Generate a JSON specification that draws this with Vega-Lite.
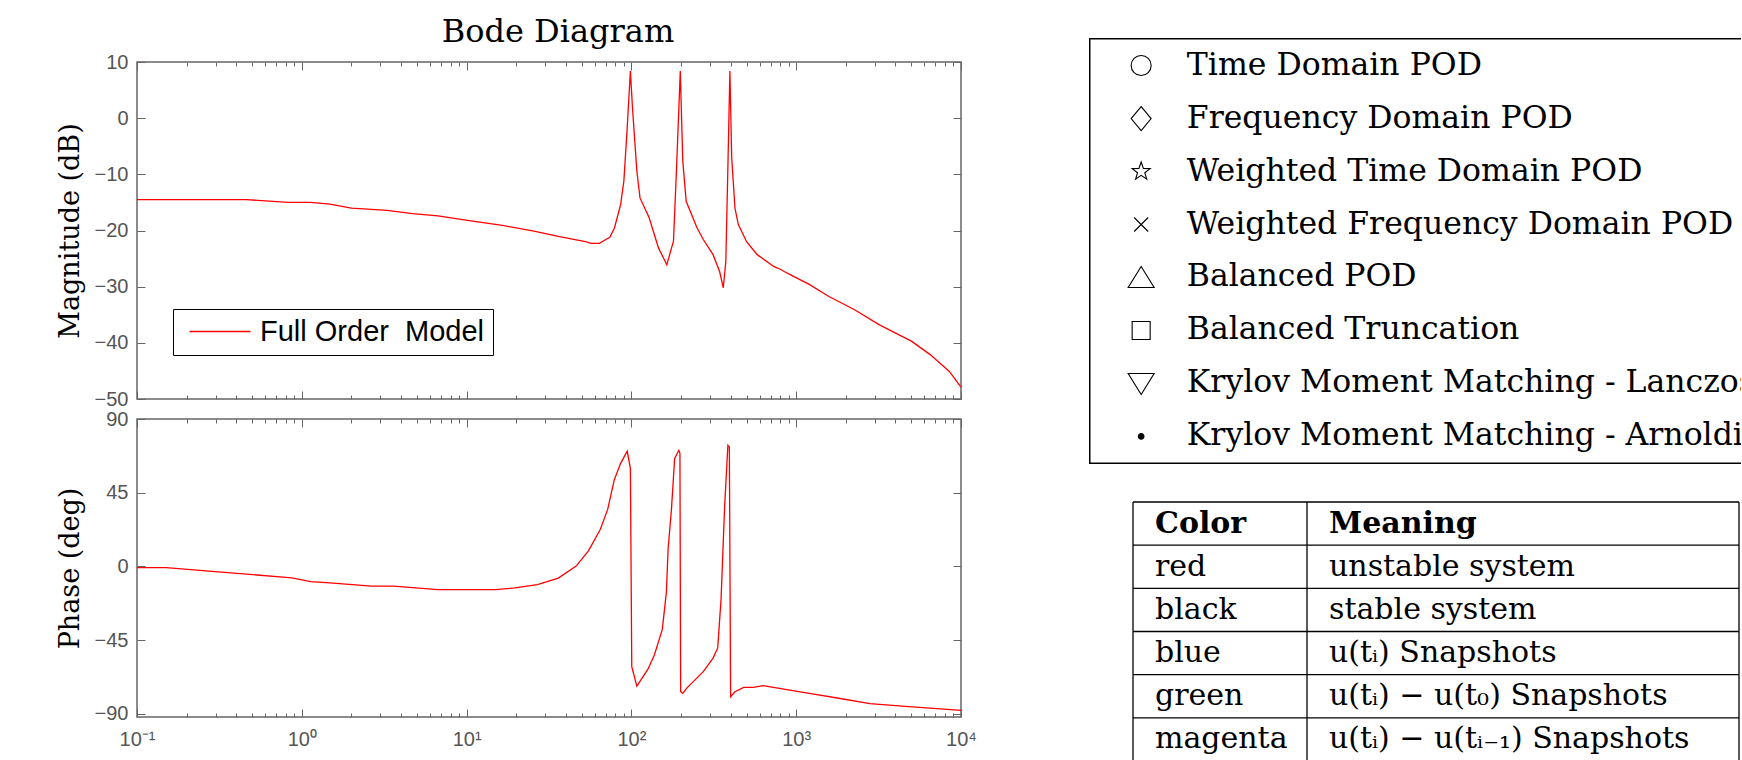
{
  "$schema": "https://vega.github.io/schema/vega-lite/v6.json",
  "background": "white",
  "padding": {"left": 55, "top": 15, "right": 0, "bottom": 0},
  "bounds": "flush",
  "spacing": 952,
  "config": {
    "view": {"stroke": "#666666", "strokeWidth": 1.5},
    "axis": {"grid": false, "domain": false, "labelFont": "Liberation Sans", "labelFontSize": 20, "labelColor": "#555555", "tickColor": "#666666", "tickWidth": 1, "titleFont": "DejaVu Serif", "titleFontSize": 27, "titleFontWeight": "normal", "titleColor": "#000000"},
    "title": {"font": "DejaVu Serif", "fontSize": 32, "fontWeight": "normal", "color": "#000000", "anchor": "middle", "frame": "group", "baseline": "alphabetic", "offset": 3, "dx": 9}
  },
  "datasets": {
    "magnitude": [
      {"f": 0.1, "mag": -14.5}, {"f": 0.2, "mag": -14.5}, {"f": 0.46, "mag": -14.5}, {"f": 0.83, "mag": -15.0},
      {"f": 1.13, "mag": -15.0}, {"f": 1.48, "mag": -15.3}, {"f": 2.0, "mag": -16.0}, {"f": 3.3, "mag": -16.4},
      {"f": 4.7, "mag": -17.0}, {"f": 6.7, "mag": -17.4}, {"f": 10.6, "mag": -18.3}, {"f": 16.5, "mag": -19.1},
      {"f": 25.6, "mag": -20.1}, {"f": 36.6, "mag": -21.1}, {"f": 52.6, "mag": -22.0}, {"f": 57, "mag": -22.3},
      {"f": 64, "mag": -22.3}, {"f": 70, "mag": -21.6}, {"f": 74, "mag": -21.2}, {"f": 79, "mag": -19.5},
      {"f": 86, "mag": -15.4}, {"f": 90, "mag": -11.2}, {"f": 94.3, "mag": -1.7}, {"f": 98.6, "mag": 8.4},
      {"f": 101.5, "mag": 1.9}, {"f": 107.9, "mag": -9.4}, {"f": 112.8, "mag": -14.2}, {"f": 128, "mag": -17.7},
      {"f": 146, "mag": -23.1}, {"f": 164, "mag": -26.1}, {"f": 180, "mag": -21.9}, {"f": 188, "mag": -8.8},
      {"f": 198, "mag": 8.4}, {"f": 205, "mag": -7.6}, {"f": 215, "mag": -14.8}, {"f": 250, "mag": -19.5},
      {"f": 273, "mag": -21.6}, {"f": 313, "mag": -24.3}, {"f": 343, "mag": -27.3}, {"f": 361, "mag": -30.2},
      {"f": 374, "mag": -25.5}, {"f": 385, "mag": -8.8}, {"f": 396, "mag": 8.4}, {"f": 406, "mag": -7.0},
      {"f": 425, "mag": -16.0}, {"f": 445, "mag": -18.9}, {"f": 500, "mag": -22.0}, {"f": 580, "mag": -24.3},
      {"f": 730, "mag": -26.4}, {"f": 800, "mag": -26.9}, {"f": 845, "mag": -27.3}, {"f": 925, "mag": -27.9},
      {"f": 1200, "mag": -29.6}, {"f": 1570, "mag": -31.7}, {"f": 2260, "mag": -34.1}, {"f": 3200, "mag": -36.8},
      {"f": 5000, "mag": -39.7}, {"f": 6500, "mag": -42.1}, {"f": 8500, "mag": -45.1}, {"f": 10000, "mag": -47.9}
    ],
    "phase": [
      {"f": 0.1, "phase": -0.8}, {"f": 0.15, "phase": -0.8}, {"f": 0.325, "phase": -3.5}, {"f": 0.87, "phase": -7.0},
      {"f": 1.13, "phase": -9.3}, {"f": 1.48, "phase": -10.1}, {"f": 2.65, "phase": -12.1}, {"f": 3.6, "phase": -12.1},
      {"f": 6.7, "phase": -14.2}, {"f": 15, "phase": -14.2}, {"f": 19.6, "phase": -13.2}, {"f": 26.9, "phase": -11.1},
      {"f": 36, "phase": -7.2}, {"f": 46.2, "phase": 0.2}, {"f": 55, "phase": 9.6}, {"f": 64.8, "phase": 22.7},
      {"f": 71.8, "phase": 34.8}, {"f": 78.7, "phase": 52.8}, {"f": 86, "phase": 62.9}, {"f": 94.3, "phase": 70.3},
      {"f": 98.6, "phase": 59.9}, {"f": 100.5, "phase": -61.2}, {"f": 107.9, "phase": -73.1}, {"f": 126, "phase": -62.8},
      {"f": 138, "phase": -54.0}, {"f": 154, "phase": -38.5}, {"f": 163, "phase": -15.9}, {"f": 167, "phase": 10.6},
      {"f": 175, "phase": 34.8}, {"f": 183, "phase": 65.9}, {"f": 194, "phase": 70.9}, {"f": 197, "phase": 69.0},
      {"f": 199, "phase": -76.6}, {"f": 205, "phase": -77.6}, {"f": 216, "phase": -74.5}, {"f": 273, "phase": -64.3},
      {"f": 313, "phase": -56.0}, {"f": 334, "phase": -49.8}, {"f": 350, "phase": -20.0}, {"f": 368, "phase": 36.8},
      {"f": 385, "phase": 73.9}, {"f": 393, "phase": 72.9}, {"f": 400, "phase": -79.7}, {"f": 425, "phase": -76.6},
      {"f": 480, "phase": -73.9}, {"f": 550, "phase": -73.9}, {"f": 630, "phase": -72.9}, {"f": 790, "phase": -74.5},
      {"f": 1200, "phase": -77.6}, {"f": 1850, "phase": -80.7}, {"f": 2800, "phase": -83.8}, {"f": 4600, "phase": -85.5},
      {"f": 10000, "phase": -87.9}
    ],
    "methods": [
      {"method": "Time Domain POD"},
      {"method": "Frequency Domain POD"},
      {"method": "Weighted Time Domain POD"},
      {"method": "Weighted Frequency Domain POD"},
      {"method": "Balanced POD"},
      {"method": "Balanced Truncation"},
      {"method": "Krylov Moment Matching - Lanczos"},
      {"method": "Krylov Moment Matching - Arnoldi"}
    ],
    "table": [
      {"row": 0, "color": "Color", "meaning": "Meaning"},
      {"row": 1, "color": "red", "meaning": "unstable system"},
      {"row": 2, "color": "black", "meaning": "stable system"},
      {"row": 3, "color": "blue", "meaning": "u(tᵢ) Snapshots"},
      {"row": 4, "color": "green", "meaning": "u(tᵢ) − u(t₀) Snapshots"},
      {"row": 5, "color": "magenta", "meaning": "u(tᵢ) − u(tᵢ₋₁) Snapshots"}
    ]
  },
  "hconcat": [
    {
      "bounds": "flush",
      "spacing": 20,
      "vconcat": [
        {"width": 824, "height": 4, "data": {"values": []}, "mark": "point", "view": {"stroke": null}},
        {
          "width": 824,
          "height": 337,
          "title": "Bode Diagram",
          "data": {"name": "magnitude"},
          "layer": [
            {
              "mark": {"type": "line", "strokeWidth": 1.3},
              "encoding": {
                "x": {"field": "f", "type": "quantitative", "scale": {"type": "log", "domain": [0.1, 10000], "nice": false}, "axis": null},
                "y": {"field": "mag", "type": "quantitative", "scale": {"domain": [-50, 10], "nice": false, "zero": false}, "axis": {"orient": "left", "values": [-50, -40, -30, -20, -10, 0, 10], "ticks": false, "labelPadding": 9, "title": "Magnitude (dB)", "titlePadding": 10}},
                "color": {"datum": "Full Order\u00a0 Model", "type": "nominal", "scale": {"range": ["#ff0000"]}, "legend": {"orient": "none", "legendX": 36, "legendY": 271, "title": null, "strokeColor": "#000000", "fillColor": "#ffffff", "padding": 8, "cornerRadius": 0, "symbolType": "M-0.5,0H4.583", "symbolSize": 576, "symbolStrokeWidth": 1.5, "labelFont": "Liberation Sans", "labelFontSize": 29, "labelColor": "#000000", "labelOffset": 50, "labelLimit": 500}}
              }
            },
            {
              "mark": {"type": "line", "opacity": 0},
              "encoding": {
                "x": {"field": "f", "type": "quantitative", "scale": {"type": "log", "domain": [0.1, 10000], "nice": false}, "axis": {"orient": "bottom", "values": [0.1, 1, 10, 100, 1000, 10000], "labels": false, "tickSize": -8, "title": null}},
                "y": {"field": "mag", "type": "quantitative", "scale": {"domain": [-50, 10], "nice": false, "zero": false}, "axis": {"orient": "right", "values": [-50, -40, -30, -20, -10, 0, 10], "labels": false, "tickSize": -8, "title": null}}
              }
            },
            {
              "mark": {"type": "line", "opacity": 0},
              "encoding": {
                "x": {"field": "f", "type": "quantitative", "scale": {"type": "log", "domain": [0.1, 10000], "nice": false}, "axis": {"orient": "top", "values": [0.1, 1, 10, 100, 1000, 10000], "labels": false, "tickSize": -8, "title": null}},
                "y": {"field": "mag", "type": "quantitative", "scale": {"domain": [-50, 10], "nice": false, "zero": false}, "axis": {"orient": "left", "values": [-50, -40, -30, -20, -10, 0, 10], "labels": false, "tickSize": -8, "title": null}}
              }
            },
            {
              "mark": {"type": "line", "opacity": 0},
              "encoding": {
                "x": {"field": "f", "type": "quantitative", "scale": {"type": "log", "domain": [0.1, 10000], "nice": false}, "axis": {"orient": "bottom", "values": [0.2,0.3,0.4,0.5,0.6,0.7,0.8,0.9,2,3,4,5,6,7,8,9,20,30,40,50,60,70,80,90,200,300,400,500,600,700,800,900,2000,3000,4000,5000,6000,7000,8000,9000], "labels": false, "tickSize": -4, "title": null}},
                "y": {"field": "mag", "type": "quantitative", "scale": {"domain": [-50, 10], "nice": false, "zero": false}, "axis": null}
              }
            },
            {
              "mark": {"type": "line", "opacity": 0},
              "encoding": {
                "x": {"field": "f", "type": "quantitative", "scale": {"type": "log", "domain": [0.1, 10000], "nice": false}, "axis": {"orient": "top", "values": [0.2,0.3,0.4,0.5,0.6,0.7,0.8,0.9,2,3,4,5,6,7,8,9,20,30,40,50,60,70,80,90,200,300,400,500,600,700,800,900,2000,3000,4000,5000,6000,7000,8000,9000], "labels": false, "tickSize": -4, "title": null}},
                "y": {"field": "mag", "type": "quantitative", "scale": {"domain": [-50, 10], "nice": false, "zero": false}, "axis": null}
              }
            }
          ],
          "resolve": {"axis": {"x": "independent", "y": "independent"}}
        },
        {
          "width": 824,
          "height": 298,
          "data": {"name": "phase"},
          "layer": [
            {
              "mark": {"type": "line", "strokeWidth": 1.3, "color": "#ff0000"},
              "encoding": {
                "x": {"field": "f", "type": "quantitative", "scale": {"type": "log", "domain": [0.1, 10000], "nice": false}, "axis": {"orient": "bottom", "values": [0.1, 1, 10, 100, 1000, 10000], "ticks": false, "labelPadding": 12, "labelFlush": false, "labelOverlap": false, "title": null, "labelExpr": "datum.value < 0.5 ? '10⁻¹' : datum.value < 5 ? '10⁰' : datum.value < 50 ? '10¹' : datum.value < 500 ? '10²' : datum.value < 5000 ? '10³' : '10⁴'"}},
                "y": {"field": "phase", "type": "quantitative", "scale": {"domain": [-92, 90], "nice": false, "zero": false}, "axis": {"orient": "left", "values": [-90, -45, 0, 45, 90], "ticks": false, "labelPadding": 9, "title": "Phase (deg)", "titlePadding": 10}}
              }
            },
            {
              "mark": {"type": "line", "opacity": 0},
              "encoding": {
                "x": {"field": "f", "type": "quantitative", "scale": {"type": "log", "domain": [0.1, 10000], "nice": false}, "axis": {"orient": "bottom", "values": [0.1, 1, 10, 100, 1000, 10000], "labels": false, "tickSize": -8, "title": null}},
                "y": {"field": "phase", "type": "quantitative", "scale": {"domain": [-92, 90], "nice": false, "zero": false}, "axis": {"orient": "right", "values": [-90, -45, 0, 45, 90], "labels": false, "tickSize": -8, "title": null}}
              }
            },
            {
              "mark": {"type": "line", "opacity": 0},
              "encoding": {
                "x": {"field": "f", "type": "quantitative", "scale": {"type": "log", "domain": [0.1, 10000], "nice": false}, "axis": {"orient": "top", "values": [0.1, 1, 10, 100, 1000, 10000], "labels": false, "tickSize": -8, "title": null}},
                "y": {"field": "phase", "type": "quantitative", "scale": {"domain": [-92, 90], "nice": false, "zero": false}, "axis": {"orient": "left", "values": [-90, -45, 0, 45, 90], "labels": false, "tickSize": -8, "title": null}}
              }
            },
            {
              "mark": {"type": "line", "opacity": 0},
              "encoding": {
                "x": {"field": "f", "type": "quantitative", "scale": {"type": "log", "domain": [0.1, 10000], "nice": false}, "axis": {"orient": "bottom", "values": [0.2,0.3,0.4,0.5,0.6,0.7,0.8,0.9,2,3,4,5,6,7,8,9,20,30,40,50,60,70,80,90,200,300,400,500,600,700,800,900,2000,3000,4000,5000,6000,7000,8000,9000], "labels": false, "tickSize": -4, "title": null}},
                "y": {"field": "phase", "type": "quantitative", "scale": {"domain": [-92, 90], "nice": false, "zero": false}, "axis": null}
              }
            },
            {
              "mark": {"type": "line", "opacity": 0},
              "encoding": {
                "x": {"field": "f", "type": "quantitative", "scale": {"type": "log", "domain": [0.1, 10000], "nice": false}, "axis": {"orient": "top", "values": [0.2,0.3,0.4,0.5,0.6,0.7,0.8,0.9,2,3,4,5,6,7,8,9,20,30,40,50,60,70,80,90,200,300,400,500,600,700,800,900,2000,3000,4000,5000,6000,7000,8000,9000], "labels": false, "tickSize": -4, "title": null}},
                "y": {"field": "phase", "type": "quantitative", "scale": {"domain": [-92, 90], "nice": false, "zero": false}, "axis": null}
              }
            }
          ],
          "resolve": {"axis": {"x": "independent", "y": "independent"}}
        }
      ]
    },
    {
      "bounds": "flush",
      "spacing": 38,
      "vconcat": [
        {
          "width": 652,
          "height": 426,
          "data": {"name": "methods"},
          "view": {"stroke": null},
          "layer": [
            {
              "transform": [{"aggregate": [{"op": "count", "as": "n"}]}],
              "mark": {"type": "rect", "fill": "transparent", "stroke": "#000000", "strokeWidth": 3, "clip": true},
              "encoding": {
                "x": {"datum": 0, "type": "quantitative", "scale": {"domain": [0, 1]}, "axis": null},
                "x2": {"datum": 1.2}
              }
            },
            {
              "mark": {"type": "point", "filled": false, "opacity": 1, "stroke": "#000000", "strokeWidth": 1.1, "size": 400},
              "encoding": {
                "x": {"datum": 0.08, "type": "quantitative", "scale": {"domain": [0, 1]}, "axis": null},
                "y": {"field": "method", "type": "nominal", "sort": null, "scale": {"type": "point", "padding": 0.52}, "axis": null},
                "shape": {"field": "method", "type": "nominal", "legend": null, "scale": {
                  "domain": ["Time Domain POD", "Frequency Domain POD", "Weighted Time Domain POD", "Weighted Frequency Domain POD", "Balanced POD", "Balanced Truncation", "Krylov Moment Matching - Lanczos", "Krylov Moment Matching - Arnoldi"],
                  "range": [
                    "M-1,0A1,1 0 1,1 1,0A1,1 0 1,1 -1,0Z",
                    "M0,-1.2L1.0,0L0,1.2L-1.0,0Z",
                    "M0,-0.95L0.223,-0.308L0.903,-0.294L0.361,0.118L0.559,0.769L0,0.38L-0.559,0.769L-0.361,0.118L-0.903,-0.294L-0.223,-0.308Z",
                    "M-0.7,-0.7L0.7,0.7M-0.7,0.7L0.7,-0.7",
                    "M0,-1.1L1.3,1.0L-1.3,1.0Z",
                    "M-0.9,-0.9H0.9V0.9H-0.9Z",
                    "M0,1.1L1.3,-1.0L-1.3,-1.0Z",
                    "M-0.28,0A0.28,0.28 0 1,1 0.28,0A0.28,0.28 0 1,1 -0.28,0Z"
                  ]}},
                "fill": {"field": "method", "type": "nominal", "legend": null, "scale": {
                  "domain": ["Time Domain POD", "Frequency Domain POD", "Weighted Time Domain POD", "Weighted Frequency Domain POD", "Balanced POD", "Balanced Truncation", "Krylov Moment Matching - Lanczos", "Krylov Moment Matching - Arnoldi"],
                  "range": ["transparent", "transparent", "transparent", "transparent", "transparent", "transparent", "transparent", "#000000"]}}
              }
            },
            {
              "mark": {"type": "text", "align": "left", "baseline": "middle", "font": "DejaVu Serif", "fontSize": 31.5, "color": "#000000", "clip": true},
              "encoding": {
                "x": {"datum": 0.15, "type": "quantitative", "scale": {"domain": [0, 1]}, "axis": null},
                "y": {"field": "method", "type": "nominal", "sort": null, "scale": {"type": "point", "padding": 0.52}, "axis": null},
                "text": {"field": "method"}
              }
            }
          ]
        },
        {
          "bounds": "flush",
          "spacing": 0,
          "hconcat": [
            {"width": 44, "height": 259, "data": {"values": []}, "mark": "point", "view": {"stroke": null}},
            {
              "width": 174,
              "height": 259,
              "data": {"name": "table"},
              "view": {"stroke": null},
              "encoding": {
                "y": {"field": "row", "type": "ordinal", "scale": {"paddingInner": 0, "paddingOuter": 0}, "axis": null}
              },
              "layer": [
                {
                  "mark": {"type": "rule", "color": "#000000", "strokeWidth": 1.3},
                  "encoding": {
                    "y": {"field": "row", "type": "ordinal", "bandPosition": 0},
                    "x": {"datum": 0, "type": "quantitative", "scale": {"domain": [0, 1]}, "axis": null},
                    "x2": {"datum": 1}
                  }
                },
                {
                  "transform": [{"filter": "datum.row == 0"}],
                  "mark": {"type": "rule", "color": "#000000", "strokeWidth": 1.3},
                  "encoding": {
                    "x": {"datum": 0, "type": "quantitative", "scale": {"domain": [0, 1]}, "axis": null},
                    "y": null
                  }
                },
                {
                  "transform": [{"filter": "datum.row == 0"}],
                  "mark": {"type": "text", "align": "left", "baseline": "middle", "dx": 22, "font": "DejaVu Serif", "fontSize": 30, "fontWeight": "bold", "color": "#000000", "clip": true},
                  "encoding": {
                    "x": {"datum": 0, "type": "quantitative", "scale": {"domain": [0, 1]}, "axis": null},
                    "text": {"field": "color"}
                  }
                },
                {
                  "transform": [{"filter": "datum.row > 0"}],
                  "mark": {"type": "text", "align": "left", "baseline": "middle", "dx": 22, "font": "DejaVu Serif", "fontSize": 30, "color": "#000000", "clip": true},
                  "encoding": {
                    "x": {"datum": 0, "type": "quantitative", "scale": {"domain": [0, 1]}, "axis": null},
                    "text": {"field": "color"}
                  }
                }
              ]
            },
            {
              "width": 432,
              "height": 259,
              "data": {"name": "table"},
              "view": {"stroke": null},
              "encoding": {
                "y": {"field": "row", "type": "ordinal", "scale": {"paddingInner": 0, "paddingOuter": 0}, "axis": null}
              },
              "layer": [
                {
                  "mark": {"type": "rule", "color": "#000000", "strokeWidth": 1.3},
                  "encoding": {
                    "y": {"field": "row", "type": "ordinal", "bandPosition": 0},
                    "x": {"datum": 0, "type": "quantitative", "scale": {"domain": [0, 1]}, "axis": null},
                    "x2": {"datum": 1}
                  }
                },
                {
                  "transform": [{"filter": "datum.row <= 1"}],
                  "mark": {"type": "rule", "color": "#000000", "strokeWidth": 1.3},
                  "encoding": {
                    "x": {"field": "row", "type": "quantitative", "scale": {"domain": [0, 1]}, "axis": null},
                    "y": null
                  }
                },
                {
                  "transform": [{"filter": "datum.row == 0"}],
                  "mark": {"type": "text", "align": "left", "baseline": "middle", "dx": 22, "font": "DejaVu Serif", "fontSize": 30, "fontWeight": "bold", "color": "#000000", "clip": true},
                  "encoding": {
                    "x": {"datum": 0, "type": "quantitative", "scale": {"domain": [0, 1]}, "axis": null},
                    "text": {"field": "meaning"}
                  }
                },
                {
                  "transform": [{"filter": "datum.row > 0"}],
                  "mark": {"type": "text", "align": "left", "baseline": "middle", "dx": 22, "font": "DejaVu Serif", "fontSize": 30, "color": "#000000", "clip": true},
                  "encoding": {
                    "x": {"datum": 0, "type": "quantitative", "scale": {"domain": [0, 1]}, "axis": null},
                    "text": {"field": "meaning"}
                  }
                }
              ]
            }
          ]
        }
      ]
    }
  ]
}
